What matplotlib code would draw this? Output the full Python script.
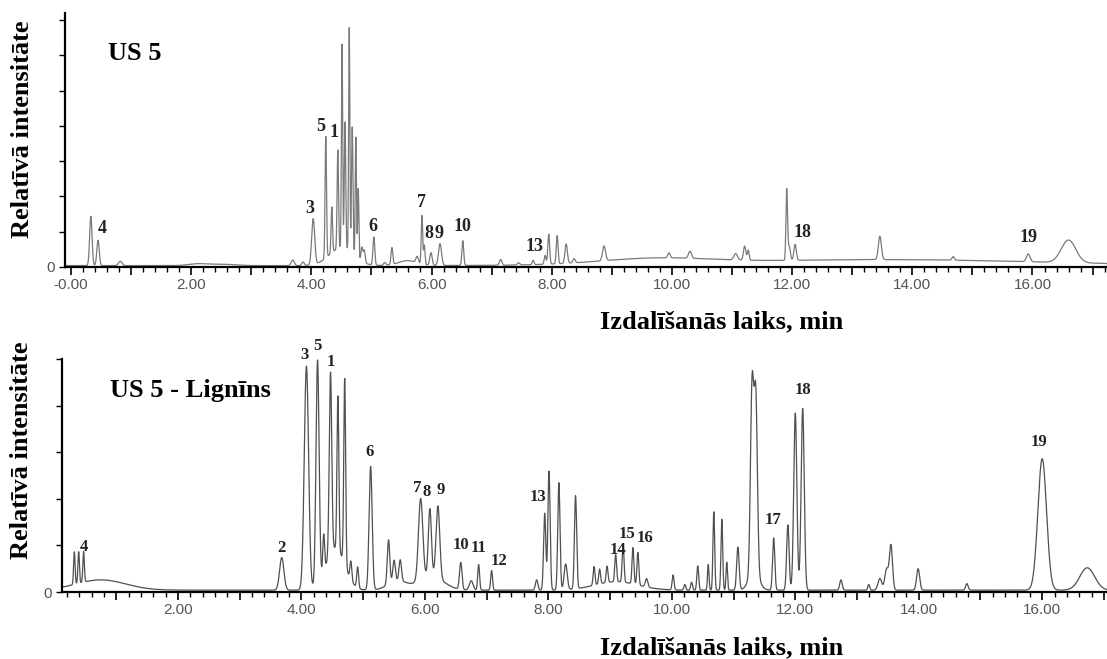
import numpy as np
import matplotlib
matplotlib.use('Agg')
import matplotlib.pyplot as plt
from matplotlib.ticker import MultipleLocator, FuncFormatter

# peak tables: retention time (min), height (tick units), sigma (min)
us5_rt = [0.33, 0.45, 0.82, 2.10, 2.50, 3.69, 3.86,
          4.03, 4.24, 4.34, 4.44, 4.51, 4.56, 4.63, 4.68, 4.74, 4.78, 4.84, 4.88, 4.50,
          5.04, 5.22, 5.34, 5.60, 5.76, 5.84, 5.88, 5.99, 6.14, 6.52,
          7.15, 7.45, 7.69, 7.89, 7.95, 8.09, 8.24, 8.37, 9.70, 13.50,
          8.87, 9.95, 10.30, 11.06, 11.21, 11.27, 11.91, 11.95, 12.05,
          13.46, 14.68, 15.93, 16.60]
us5_h = [1.40, 0.72, 0.12, 0.05, 0.04, 0.16, 0.10,
         1.30, 3.45, 1.30, 2.80, 5.80, 3.60, 6.35, 3.60, 3.40, 2.00, 0.40, 0.35, 0.50,
         0.80, 0.08, 0.48, 0.14, 0.18, 1.38, 0.55, 0.36, 0.62, 0.70,
         0.16, 0.06, 0.12, 0.25, 0.85, 0.80, 0.55, 0.12, 0.16, 0.17,
         0.42, 0.14, 0.20, 0.18, 0.40, 0.28, 1.98, 0.40, 0.45,
         0.66, 0.10, 0.22, 0.64]
us5_w = [0.020, 0.020, 0.030, 0.150, 0.200, 0.025, 0.020,
         0.025, 0.012, 0.012, 0.012, 0.010, 0.012, 0.010, 0.012, 0.010, 0.010, 0.015, 0.015, 0.200,
         0.015, 0.020, 0.015, 0.150, 0.020, 0.012, 0.012, 0.020, 0.025, 0.015,
         0.020, 0.020, 0.015, 0.015, 0.015, 0.015, 0.020, 0.020, 0.900, 2.600,
         0.025, 0.020, 0.025, 0.030, 0.020, 0.015, 0.013, 0.020, 0.020,
         0.025, 0.020, 0.030, 0.120]

lig_rt = [0.32, 0.39, 0.47, 0.75, 3.68,
          4.08, 4.26, 4.36, 4.47, 4.59, 4.70, 4.55, 4.80, 4.91,
          5.12, 5.41, 5.50, 5.60, 5.55, 5.93, 6.08, 6.21, 6.10,
          6.58, 6.75, 6.87, 7.08, 7.81, 7.94, 8.01, 8.17, 8.28, 8.44,
          8.74, 8.83, 8.95, 9.09, 9.21, 9.37, 9.45, 9.59, 9.10,
          10.02, 10.21, 10.32, 10.42, 10.59, 10.68, 10.81, 10.89, 11.07,
          11.30, 11.36, 11.33, 11.65, 11.88, 12.00, 12.12,
          12.74, 13.19, 13.37, 13.48, 13.55, 13.99, 14.78, 16.00, 16.73]
lig_h = [0.70, 0.68, 0.66, 0.22, 0.70,
         4.80, 4.80, 0.80, 3.90, 3.30, 4.00, 0.90, 0.40, 0.45,
         2.65, 0.95, 0.45, 0.45, 0.20, 1.75, 1.45, 1.55, 0.30,
         0.58, 0.20, 0.55, 0.42, 0.22, 1.65, 2.55, 2.30, 0.55, 2.00,
         0.40, 0.32, 0.35, 0.58, 0.82, 0.78, 0.70, 0.18, 0.18,
         0.32, 0.12, 0.17, 0.52, 0.55, 1.68, 1.52, 0.60, 0.92,
         4.00, 3.75, 0.40, 1.12, 1.40, 3.80, 3.90,
         0.22, 0.12, 0.25, 0.45, 0.95, 0.46, 0.14, 2.82, 0.48]
lig_w = [0.012, 0.012, 0.012, 0.400, 0.035,
         0.035, 0.025, 0.015, 0.020, 0.015, 0.015, 0.150, 0.015, 0.015,
         0.025, 0.020, 0.020, 0.020, 0.150, 0.035, 0.025, 0.030, 0.200,
         0.020, 0.030, 0.015, 0.015, 0.020, 0.018, 0.018, 0.018, 0.025, 0.018,
         0.015, 0.015, 0.015, 0.015, 0.015, 0.015, 0.015, 0.020, 0.350,
         0.015, 0.015, 0.015, 0.015, 0.012, 0.014, 0.014, 0.012, 0.020,
         0.026, 0.026, 0.080, 0.018, 0.020, 0.025, 0.025,
         0.020, 0.015, 0.030, 0.030, 0.025, 0.025, 0.020, 0.070, 0.120]

# peak numbers: text, time (min), height (tick units)
us5_lab = ['4', '3', '5', '1', '6', '7', '8', '9', '10', '13', '18', '19']
us5_lab_t = [0.52, 3.98, 4.16, 4.38, 5.02, 5.84, 5.96, 6.12, 6.52, 7.72, 12.18, 15.94]
us5_lab_h = [1.08, 1.67, 3.97, 3.80, 1.16, 1.84, 0.96, 0.96, 1.16, 0.57, 0.99, 0.85]

lig_lab = ['4', '2', '3', '5', '1', '6', '7', '8', '9', '10', '11', '12', '13',
           '14', '15', '16', '17', '18', '19']
lig_lab_t = [0.47, 3.68, 4.05, 4.26, 4.47, 5.11, 5.88, 6.03, 6.26, 6.58, 6.87, 7.20,
             7.83, 9.12, 9.27, 9.56, 11.64, 12.12, 15.95]
lig_lab_h = [0.97, 0.94, 5.09, 5.28, 4.94, 3.00, 2.23, 2.15, 2.19, 1.01, 0.94, 0.67,
             2.04, 0.90, 1.24, 1.16, 1.55, 4.33, 3.22]


def trace(t, rt, h, w, base):
    y = np.full_like(t, base)
    for r, a, s in zip(rt, h, w):
        y += a * np.exp(-0.5 * ((t - r) / s) ** 2)
    return y


def fmt(v, pos):
    if abs(v / 2 - round(v / 2)) > 1e-6:
        return ''
    if abs(v) < 1e-9:
        return '-0.00'
    return '%.2f' % v


serif = 'Liberation Serif'
W, H = 1107, 659
fig = plt.figure(figsize=(W / 100, H / 100), dpi=100)

ax1 = fig.add_axes([65 / W, 1 - 267 / H, 1042 / W, 254 / H])
ax2 = fig.add_axes([62 / W, 1 - 592 / H, 1045 / W, 233 / H])

t1 = np.linspace(-0.1, 17.24, 9000)
t2 = np.linspace(0.12, 17.05, 9000)
ax1.plot(t1, trace(t1, us5_rt, us5_h, us5_w, 0.04), color='#7a7a7a', lw=0.9)
ax2.plot(t2, trace(t2, lig_rt, lig_h, lig_w, 0.04), color='#505050', lw=0.9)

ax1.set_xlim(-0.1, 17.24)
ax1.set_ylim(0, 7.2)
ax2.set_xlim(0.12, 17.05)
ax2.set_ylim(0, 5.0)

for ax, ny in [(ax1, 8), (ax2, 6)]:
    for s in ['top', 'right']:
        ax.spines[s].set_visible(False)
    for s in ['left', 'bottom']:
        ax.spines[s].set_linewidth(1.6)
        ax.spines[s].set_color('black')
    ax.xaxis.set_major_locator(MultipleLocator(1))
    ax.xaxis.set_minor_locator(MultipleLocator(0.2))
    ax.xaxis.set_major_formatter(FuncFormatter(fmt))
    ax.set_yticks(range(ny))
    ax.set_yticklabels(['0'] + [''] * (ny - 1))
    ax.tick_params(axis='x', which='major', length=6, width=1.2, direction='out',
                   pad=2, labelsize=11, labelcolor='#555555')
    ax.tick_params(axis='x', which='minor', length=3.5, width=1.0, direction='out')
    ax.tick_params(axis='y', length=4, width=1.0, direction='out', pad=3,
                   labelsize=11, labelcolor='#555555')
    for lab in ax.get_xticklabels() + ax.get_yticklabels():
        lab.set_family('Liberation Sans')

for txt, x, y in zip(us5_lab, us5_lab_t, us5_lab_h):
    ax1.text(x, y, txt, ha='center', va='center', family=serif, fontweight='bold',
             fontsize=13, color='#222222')
for txt, x, y in zip(lig_lab, lig_lab_t, lig_lab_h):
    ax2.text(x, y, txt, ha='center', va='center', family=serif, fontweight='bold',
             fontsize=12, color='#222222', clip_on=False)

fig.text(108 / W, 1 - 60 / H, 'US 5', ha='left', va='baseline', family=serif,
         fontweight='bold', fontsize=19)
fig.text(110 / W, 1 - 397 / H, 'US 5 - Lignīns', ha='left', va='baseline', family=serif,
         fontweight='bold', fontsize=19)
fig.text(722 / W, 1 - 328 / H, 'Izdalīšanās laiks, min', ha='center', va='baseline',
         family=serif, fontweight='bold', fontsize=19)
fig.text(722 / W, 1 - 654 / H, 'Izdalīšanās laiks, min', ha='center', va='baseline',
         family=serif, fontweight='bold', fontsize=19)
fig.text(23 / W, 1 - 129 / H, 'Relatīvā intensitāte', ha='center', va='center',
         rotation=90, family=serif, fontweight='bold', fontsize=19)
fig.text(22 / W, 1 - 450 / H, 'Relatīvā intensitāte', ha='center', va='center',
         rotation=90, family=serif, fontweight='bold', fontsize=19)

fig.savefig('out.png', dpi=100)
